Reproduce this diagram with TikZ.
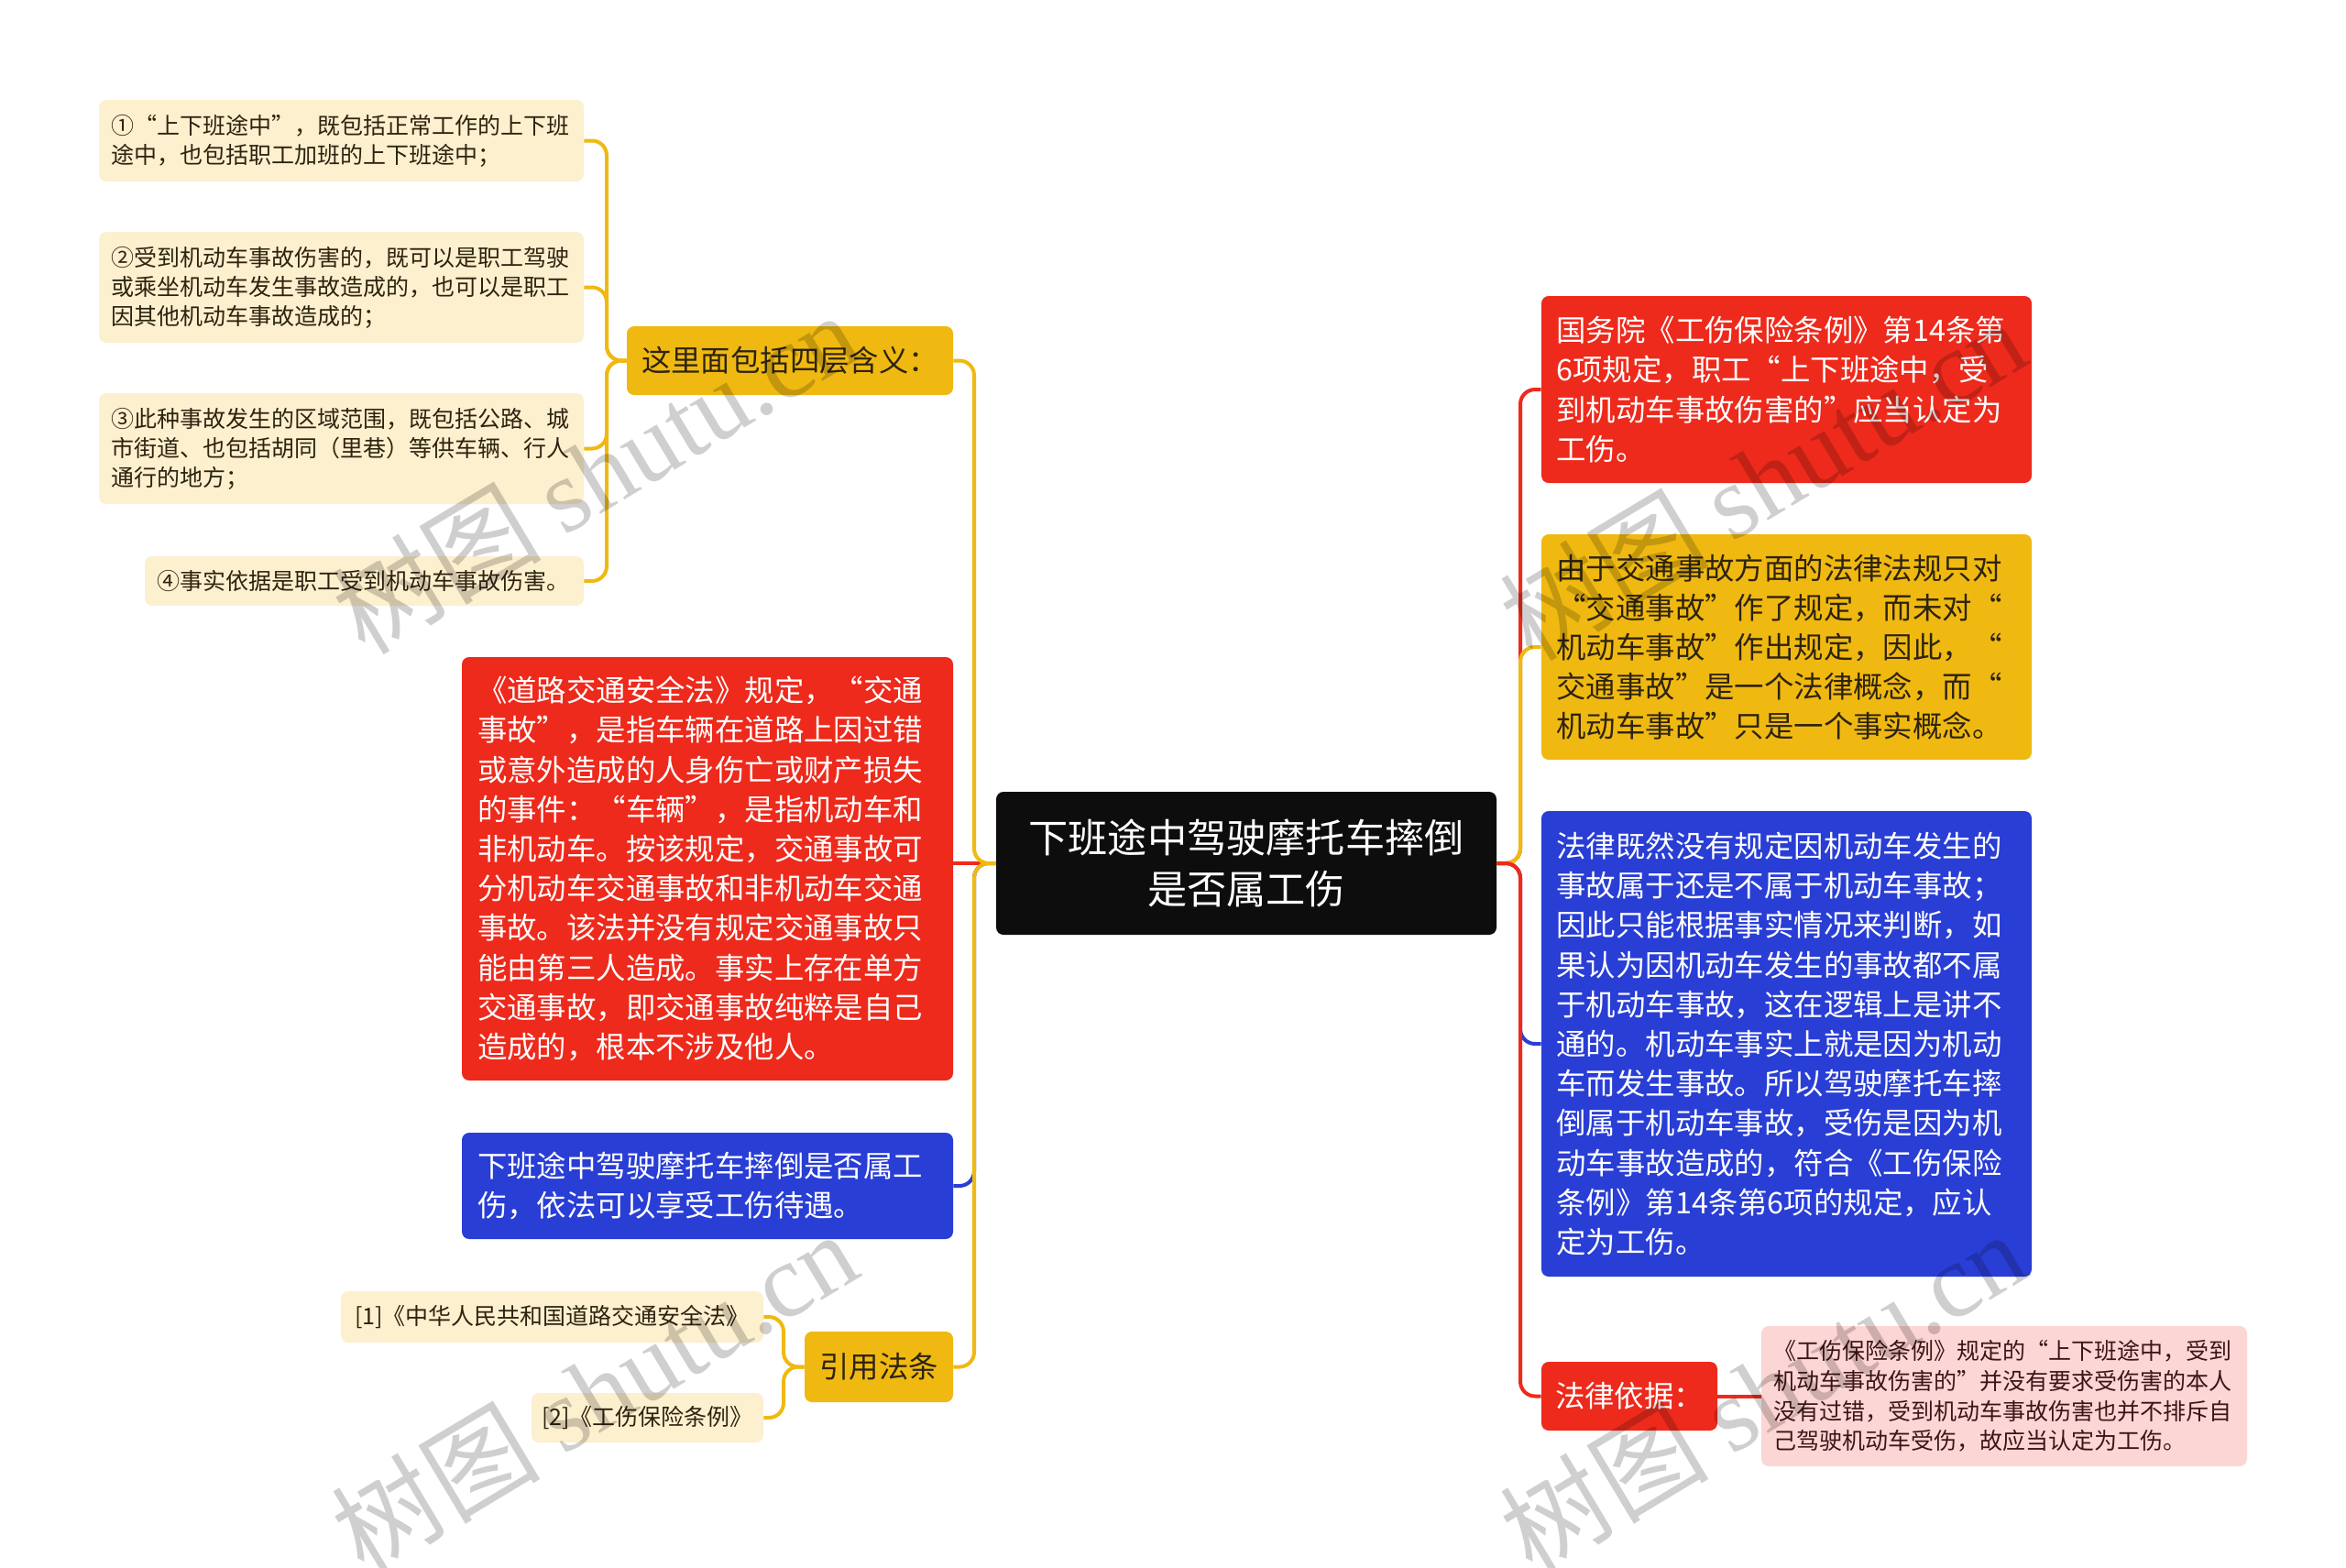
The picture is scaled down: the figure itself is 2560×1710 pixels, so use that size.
\documentclass[tikz,border=0pt]{standalone}
\usepackage{fontspec}
\setmainfont{Noto Sans CJK SC}
\newfontfamily\wmlatin{Liberation Serif}
\definecolor{mmRed}{RGB}{237,42,28}
\definecolor{mmBlue}{RGB}{41,62,213}
\definecolor{mmYellow}{RGB}{240,185,17}
\definecolor{mmCream}{RGB}{253,240,207}
\definecolor{mmPink}{RGB}{252,214,212}
\definecolor{mmRoot}{RGB}{13,13,13}
\definecolor{mmDark}{RGB}{45,35,15}
\definecolor{mmPinkText}{RGB}{60,22,22}
\tikzset{
  mm/.style={rounded corners=4pt, inner ysep=0pt, align=left},
  leaf/.style={mm, fill=mmCream, text=mmDark, inner xsep=6.5pt, font=\fontsize{12.5pt}{16pt}\selectfont},
  big/.style={mm, inner xsep=8.5pt, font=\fontsize{16.2pt}{21.6pt}\selectfont},
  redbox/.style={big, fill=mmRed, text=white},
  bluebox/.style={big, fill=mmBlue, text=white},
  yelbox/.style={big, fill=mmYellow, text=mmDark},
  rootbox/.style={mm, fill=mmRoot, text=white, align=center, font=\fontsize{21.6pt}{27.8pt}\selectfont},
  pinkbox/.style={mm, fill=mmPink, text=mmPinkText, inner xsep=6.5pt, font=\fontsize{12.5pt}{16.3pt}\selectfont},
  conn/.style={line width=2pt, rounded corners=8pt},
  wm/.style={text=black, opacity=0.19, font=\fontsize{57pt}{57pt}\selectfont, rotate=31, inner sep=0pt}
}
\begin{document}
\begin{tikzpicture}[x=0.5pt,y=-0.5pt]
\useasboundingbox (0,0) rectangle (2560,1710);
\fill[white] (0,0) rectangle (2560,1710);

% root
\node[rootbox, minimum width=273pt, minimum height=78pt] (root) at (1360,942) {下班途中驾驶摩托车摔倒\\是否属工伤};

% left side
\node[yelbox, align=center, minimum width=178pt, minimum height=37.5pt, inner xsep=0pt] (zhe) at (862,393.5) {这里面包括四层含义：};
\node[leaf, minimum width=264.5pt, minimum height=44.5pt, text width=251.5pt] (l1) at (372.5,153.5) {①“上下班途中”，既包括正常工作的上下班\\途中，也包括职工加班的上下班途中；};
\node[leaf, minimum width=264.5pt, minimum height=60.5pt, text width=251.5pt] (l2) at (372.5,313.5) {②受到机动车事故伤害的，既可以是职工驾驶\\或乘坐机动车发生事故造成的，也可以是职工\\因其他机动车事故造成的；};
\node[leaf, minimum width=264.5pt, minimum height=60.5pt, text width=251.5pt] (l3) at (372.5,489.5) {③此种事故发生的区域范围，既包括公路、城\\市街道、也包括胡同（里巷）等供车辆、行人\\通行的地方；};
\node[leaf, minimum width=239.5pt, minimum height=27pt, text width=226.5pt] (l4) at (397.5,634) {④事实依据是职工受到机动车事故伤害。};

\node[redbox, minimum width=268pt, minimum height=231pt, text width=251pt] (redL) at (772,948) {《道路交通安全法》规定，“交通\\事故”，是指车辆在道路上因过错\\或意外造成的人身伤亡或财产损失\\的事件：“车辆”，是指机动车和\\非机动车。按该规定，交通事故可\\分机动车交通事故和非机动车交通\\事故。该法并没有规定交通事故只\\能由第三人造成。事实上存在单方\\交通事故，即交通事故纯粹是自己\\造成的，根本不涉及他人。};
\node[bluebox, minimum width=268pt, minimum height=58pt, text width=251pt] (blueL) at (772,1294) {下班途中驾驶摩托车摔倒是否属工\\伤，依法可以享受工伤待遇。};

\node[yelbox, align=center, minimum width=81pt, minimum height=38.5pt, inner xsep=0pt] (yin) at (959,1491.5) {引用法条};
\node[leaf, align=center, minimum width=230.5pt, minimum height=28pt, inner xsep=0pt] (ref1) at (602.5,1437) {[1]《中华人民共和国道路交通安全法》};
\node[leaf, align=center, minimum width=126.5pt, minimum height=27pt, inner xsep=0pt] (ref2) at (706.5,1547) {[2]《工伤保险条例》};

% right side
\node[redbox, minimum width=267.5pt, minimum height=102pt, text width=251pt, inner xsep=8.25pt] (redR) at (1949.5,425) {国务院《工伤保险条例》第14条第\\6项规定，职工“上下班途中，受\\到机动车事故伤害的”应当认定为\\工伤。};
\node[yelbox, minimum width=267.5pt, minimum height=123pt, text width=251pt, inner xsep=8.25pt] (yelR) at (1949.5,706) {由于交通事故方面的法律法规只对\\“交通事故”作了规定，而未对“\\机动车事故”作出规定，因此，“\\交通事故”是一个法律概念，而“\\机动车事故”只是一个事实概念。};
\node[bluebox, minimum width=267.5pt, minimum height=254pt, text width=251pt, inner xsep=8.25pt] (blueR) at (1949.5,1139) {法律既然没有规定因机动车发生的\\事故属于还是不属于机动车事故；\\因此只能根据事实情况来判断，如\\果认为因机动车发生的事故都不属\\于机动车事故，这在逻辑上是讲不\\通的。机动车事实上就是因为机动\\车而发生事故。所以驾驶摩托车摔\\倒属于机动车事故，受伤是因为机\\动车事故造成的，符合《工伤保险\\条例》第14条第6项的规定，应认\\定为工伤。};
\node[redbox, align=center, minimum width=96pt, minimum height=37.5pt, inner xsep=0pt] (fl) at (1778,1523.5) {法律依据：};
\node[pinkbox, minimum width=265pt, minimum height=76.5pt, text width=252pt] (pink) at (2187,1523.5) {《工伤保险条例》规定的“上下班途中，受到\\机动车事故伤害的”并没有要求受伤害的本人\\没有过错，受到机动车事故伤害也并不排斥自\\己驾驶机动车受伤，故应当认定为工伤。};

% connectors left
\coordinate (lj) at (1063,942);
\coordinate (rj) at (1659,942);
\draw[conn, mmBlue] (root.west) -- (lj) |- (blueL.east);
\draw[conn, mmRed] (root.west) -- (redL.east |- root.west);
\draw[conn, mmYellow] (root.west) -- (lj) |- (zhe.east);
\draw[conn, mmYellow] (root.west) -- (lj) |- (yin.east);
% connectors right
\draw[conn, mmBlue] (root.east) -- (rj) |- (blueR.west);
\draw[conn, mmRed] (root.east) -- (rj) |- (redR.west);
\draw[conn, mmYellow] (root.east) -- (rj) |- (yelR.west);
\draw[conn, mmRed] (root.east) -- (rj) |- (fl.west);
\draw[conn, mmRed] (fl.east) -- (pink.west);
% sub branches
\coordinate (zj) at (662,393.5);
\foreach \t in {l1,l2,l3,l4} \draw[conn, mmYellow] (zhe.west) -- (zj) |- (\t.east);
\coordinate (yj) at (855,1491.5);
\foreach \t in {ref1,ref2} \draw[conn, mmYellow] (yin.west) -- (yj) |- (\t.east);

% watermarks
\node[wm] (wm1) at (649,515) {树图 {\wmlatin shutu.cn}};
\node[wm] (wm2) at (1923,522) {树图 {\wmlatin shutu.cn}};
\node[wm] (wm3) at (648,1518) {树图 {\wmlatin shutu.cn}};
\node[wm] (wm4) at (1923,1518) {树图 {\wmlatin shutu.cn}};
\end{tikzpicture}
\end{document}
